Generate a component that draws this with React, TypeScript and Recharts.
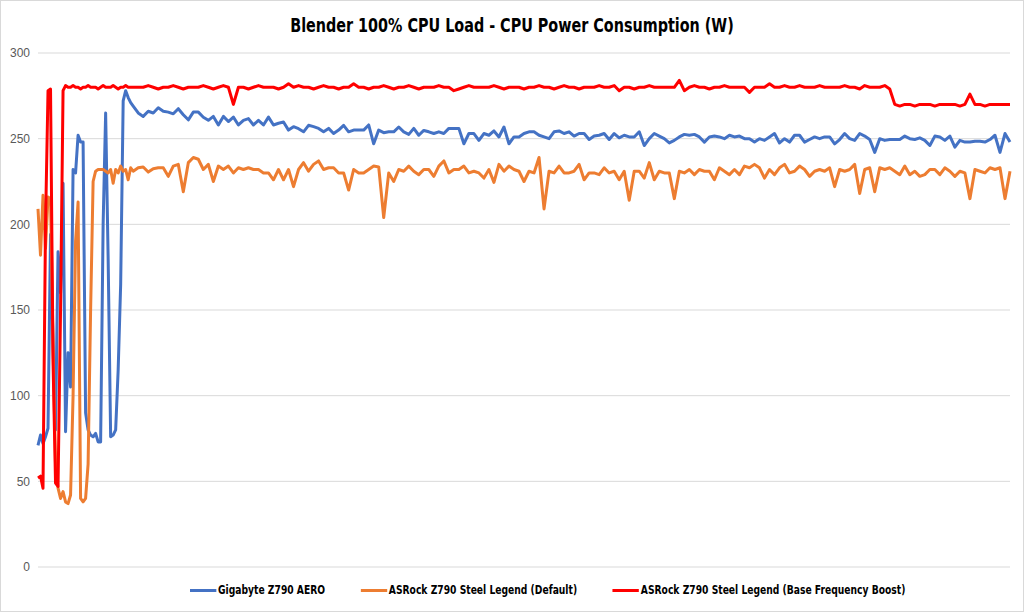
import { LineChart, Line, XAxis, YAxis, CartesianGrid } from 'recharts';

const TITLE = 'Blender 100% CPU Load - CPU Power Consumption (W)';
const SERIES_NAMES = [
  'Gigabyte Z790 AERO',
  'ASRock Z790 Steel Legend (Default)',
  'ASRock Z790 Steel Legend (Base Frequency Boost)',
];
const SERIES_KEYS = ['aero', 'steelDefault', 'steelBoost'];
const SERIES_COLORS = ['#4472c4', '#ed7d31', '#ff0000'];
const Y_TICKS = [0, 50, 100, 150, 200, 250, 300];

// start-up phase, one sample per time step (t = 0..38)
const EARLY_AERO = [
  71, 77, 72, 76, 81, 194, 130, 80, 184, 160, 224, 79, 125, 105, 232, 230, 252, 248, 248, 90,
  80, 77, 76, 78, 73, 73, 200, 265, 180, 76, 77, 80, 115, 165, 272, 278, 274, 271, 269,
];
const EARLY_DEFAULT = [
  209, 182, 217, 186, 216, 215, 130, 60, 46, 40, 44, 38, 37, 42, 100, 190, 213, 40, 38, 40,
  60, 150, 225, 231, 232, 232, 232, 231, 230, 232, 224, 232, 230, 234, 231, 232, 226, 233, 231,
];
const EARLY_BOOST = [
  52, 53, 46, 200, 278, 279, 120, 49, 47, 150, 278, 281, 280, 280, 281, 280, 280, 279, 280, 280,
  281, 280, 280, 280, 279, 280, 281, 280, 280, 280, 281, 280, 279, 280, 280, 281, 280, 280, 280,
];

// steady phase, every second time step (t = 40..388)
const AERO = [
  265, 263, 266, 265, 268, 266, 265.5, 264.5, 267.5, 264, 261, 265.5, 265.5, 262.5, 260.7, 263, 258,
  263, 260, 262.6, 258, 260.7, 261.7, 258, 260.7, 258, 262.6, 258, 259, 259.7, 255, 257, 255.8, 254,
  257.8, 257, 256, 254, 256, 253, 255, 257.8, 254, 255, 255, 255, 258, 247, 255, 253.5, 254, 254,
  256.8, 254, 252.5, 256, 252, 254.8, 254, 253, 254, 253, 256, 256, 256, 247, 253, 253, 249,
  253, 252, 254.5, 251, 256.8, 247, 251, 251, 253, 254, 254, 252, 251, 250, 254, 254.5, 253, 254,
  251.5, 253, 253, 249.5, 251.5, 252, 253, 249.5, 253, 250.5, 252, 251, 251, 254, 246, 250, 253,
  251.5, 250, 247.5, 249, 251, 252.5, 252, 252.5, 251, 248, 251, 251.5, 251, 250, 252, 251, 251.5,
  250, 250, 248, 250, 249, 251, 253, 247.5, 250, 248, 252, 252, 248, 249.5, 251, 250, 251, 251, 247,
  249.5, 253, 250, 249, 253, 251.5, 249.5, 242, 250, 249, 249.5, 249.5, 249.5, 251.5, 250, 249.5,
  250.5, 249, 246, 251.5, 251, 249, 251.5, 245, 249, 248, 248, 248.5, 248.5, 248, 249.5, 252, 242,
  253, 248,
];
const STEEL_DEFAULT = [
  233, 233.5, 230.5, 232.5, 233, 233, 228, 234, 235, 219, 236, 239, 238, 232, 235, 225, 234, 232,
  234, 230, 233, 232, 233, 232, 232, 230, 230, 226, 232, 226, 232, 222, 232, 236,
  231, 235, 237, 232, 233, 233, 230, 230, 220, 232, 230, 230, 232, 234, 233.5, 204, 230, 225, 232,
  231, 234, 231, 229, 232, 232, 228, 234, 237, 230, 232, 232, 234, 230, 231, 230,
  227, 232, 224.5, 235, 231, 234, 232, 231, 225, 231, 230, 239, 209, 231, 230, 234, 230, 230, 231,
  235, 226, 230, 230, 229, 233, 230, 231, 226, 231, 214, 231, 231, 227, 236, 226,
  231, 230, 230, 215, 231, 230, 232, 229, 232, 231, 231, 226, 233, 231, 229, 232, 229, 234, 233,
  235, 233, 227, 232, 229, 233, 235, 230, 231, 234, 232, 228, 231, 232, 231, 233, 222,
  232, 231, 232, 235, 218, 232, 233, 219, 233, 232, 233, 231, 229, 234, 229, 231, 228, 229, 232,
  232, 229, 233, 231, 228, 231, 230, 215, 232, 231, 230, 233, 232, 233, 215, 231,
];
const STEEL_BOOST = [
  280, 280, 281, 280, 279, 280, 280, 281, 280, 279, 280, 280, 280, 281, 280, 279, 280, 281, 280,
  270, 280, 280, 279, 280, 281, 280, 280, 280, 279, 280, 282, 280, 281, 280,
  280, 279, 280, 281, 280, 280, 279, 280, 280, 282, 280, 280, 279, 280, 280, 281, 280, 279, 280,
  280, 281, 280, 279, 280, 280, 280, 281, 280, 280, 278, 279, 280, 281, 280, 280,
  280, 280, 281, 280, 279, 280, 280, 280, 279, 280, 280, 281, 280, 280, 279, 280, 281, 280, 280,
  279, 280, 280, 280, 281, 280, 280, 281, 278, 280, 280, 279, 280, 280, 281, 280,
  280, 280, 280, 280, 284, 278, 280, 281, 280, 280, 279, 280, 280, 281, 280, 280, 280, 280, 277,
  280, 280, 280, 282, 280, 280, 281, 280, 280, 281, 280, 280, 280, 281, 280, 280, 280,
  280, 281, 280, 280, 279, 281, 280, 280, 280, 281, 279, 270, 269, 270, 270, 269, 270, 270, 270,
  269, 270, 270, 270, 270, 269, 270, 276, 270, 270, 269, 270, 270, 270, 270, 270,
];

const STEADY_START = 40;
const STEADY_STEP = 2;

function buildRows() {
  const rows = [];
  EARLY_AERO.forEach((v, i) => {
    rows.push({ t: i, aero: v, steelDefault: EARLY_DEFAULT[i], steelBoost: EARLY_BOOST[i] });
  });
  AERO.forEach((v, i) => {
    rows.push({
      t: STEADY_START + STEADY_STEP * i,
      aero: v,
      steelDefault: STEEL_DEFAULT[i],
      steelBoost: STEEL_BOOST[i],
    });
  });
  return rows;
}

const rows = buildRows();
const lastT = rows[rows.length - 1].t;

// no narrow font installed, so the condensed look is faked with scaleX
const condensed = "'DejaVu Sans Condensed', 'Liberation Sans', sans-serif";

export default function App() {
  return (
    <div style={{ position: 'absolute', left: 0, top: 0, width: 1024, height: 612, background: '#fff' }}>
      <div
        style={{
          position: 'absolute',
          left: 0,
          top: 14,
          width: 1024,
          textAlign: 'center',
          fontFamily: condensed,
          fontWeight: 'bold',
          fontSize: 19,
          color: '#000',
          transform: 'scaleX(0.84)',
          transformOrigin: '512px 50%',
        }}
      >
        {TITLE}
      </div>
      <LineChart width={1024} height={612} data={rows} margin={{ top: 53, right: 14, bottom: 45, left: 0 }}>
        <CartesianGrid vertical={false} stroke="#d9d9d9" strokeWidth={1} />
        <XAxis type="number" dataKey="t" domain={[0, lastT]} hide />
        <YAxis
          width={38}
          domain={[0, 300]}
          ticks={Y_TICKS}
          axisLine={false}
          tickLine={false}
          tick={{ fill: '#595959', fontSize: 12, fontFamily: "'Liberation Sans', Arial, sans-serif" }}
        />
        {SERIES_KEYS.map((k, i) => (
          <Line
            key={k}
            type="linear"
            dataKey={k}
            stroke={SERIES_COLORS[i]}
            strokeWidth={3}
            strokeLinejoin="round"
            dot={false}
            isAnimationActive={false}
          />
        ))}
      </LineChart>
      <div
        style={{
          position: 'absolute',
          left: 190,
          top: 583,
          display: 'flex',
          alignItems: 'center',
          gap: 42,
          fontFamily: condensed,
          fontWeight: 'bold',
          fontSize: 12,
          color: '#000',
          whiteSpace: 'nowrap',
          transform: 'scaleX(0.85)',
          transformOrigin: '0 50%',
        }}
      >
        {SERIES_NAMES.map((name, i) => (
          <div key={name} style={{ display: 'flex', alignItems: 'center' }}>
            <span style={{ display: 'inline-block', width: 31, height: 3, background: SERIES_COLORS[i], marginRight: 2 }} />
            <span>{name}</span>
          </div>
        ))}
      </div>
      <div
        style={{
          position: 'absolute',
          left: 0,
          top: 0,
          width: 1024,
          height: 612,
          boxSizing: 'border-box',
          border: '1px solid #d9d9d9',
          pointerEvents: 'none',
        }}
      />
    </div>
  );
}
